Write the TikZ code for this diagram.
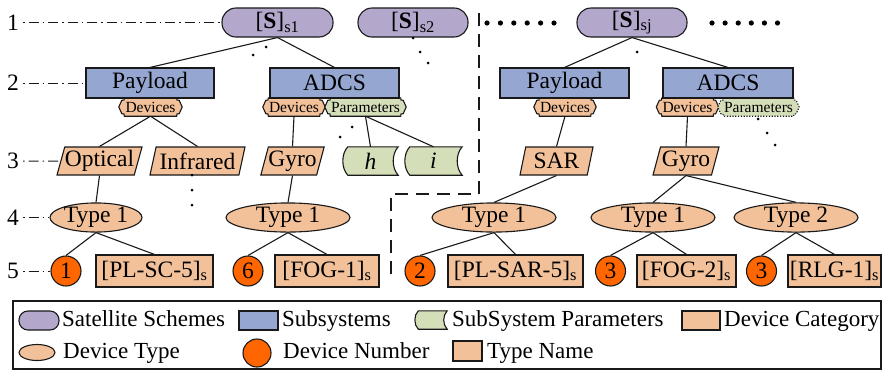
\documentclass[tikz,border=0pt]{standalone}
\usepackage{fontspec}
\setmainfont{Liberation Serif}
\usetikzlibrary{shapes.geometric,calc,backgrounds}
\definecolor{schemeC}{RGB}{180,167,204}
\definecolor{subC}{RGB}{149,166,209}
\definecolor{paramC}{RGB}{212,222,184}
\definecolor{devC}{RGB}{242,193,153}
\definecolor{numC}{RGB}{255,102,0}
\definecolor{lineC}{RGB}{25,25,25}
\newcommand\tagpath[2]{%
 \path[#2] ($(#1.north west)+(2.5,0)$) -- ($(#1.north east)+(-2.5,0)$)
   .. controls ($(#1.north east)+(-2.5,2.5)$) .. ($(#1.north east)+(0,2.5)$)
   -- ($(#1.east)+(3,0)$) -- ($(#1.south east)+(0,-2.5)$)
   .. controls ($(#1.south east)+(-2.5,-2.5)$) .. ($(#1.south east)+(-2.5,0)$)
   -- ($(#1.south west)+(2.5,0)$)
   .. controls ($(#1.south west)+(2.5,-2.5)$) .. ($(#1.south west)+(0,-2.5)$)
   -- ($(#1.west)+(-3,0)$) -- ($(#1.north west)+(0,2.5)$)
   .. controls ($(#1.north west)+(2.5,2.5)$) .. ($(#1.north west)+(2.5,0)$) -- cycle;}
\newcommand\storedpath[4]{%
 \path[#2] ($(#1.north west)+(#3,0)$) -- (#1.north east)
  .. controls ($(#1.north east)+(-1.33*#3,#4)$) and ($(#1.south east)+(-1.33*#3,-#4)$) .. (#1.south east)
  -- ($(#1.south west)+(#3,0)$)
  .. controls ($(#1.south west)+(-0.33*#3,-#4)$) and ($(#1.north west)+(-0.33*#3,#4)$) .. ($(#1.north west)+(#3,0)$) -- cycle;}
\tikzset{
 base/.style={draw=lineC, line width=1.1pt, font=\fontsize{23.5}{27}\selectfont, inner sep=0pt},
 scheme/.style={base, fill=schemeC, rounded corners=14pt, minimum width=110pt, minimum height=29pt},
 subsys/.style={base, fill=subC, minimum width=129pt, minimum height=30pt},
 tagtext/.style={inner sep=0pt, minimum height=18pt, font=\fontsize{15.5}{17}\selectfont},
 tagfill/.style={fill=#1, draw=lineC, line width=1.1pt},
 devcat/.style={base, fill=devC, trapezium, trapezium left angle=70, trapezium right angle=110, trapezium stretches body, minimum height=28pt},
 paramtext/.style={inner sep=0pt, minimum height=28pt, font=\fontsize{23.5}{27}\selectfont\itshape},
 devtype/.style={base, fill=devC, ellipse, minimum width=124pt, minimum height=29pt},
 devnum/.style={base, fill=numC, circle, minimum size=30pt},
 typename/.style={base, fill=devC, minimum height=32pt},
 conn/.style={draw=lineC, line width=1.1pt},
 levelline/.style={draw=lineC, line width=1pt, dash pattern=on 1.5pt off 4pt on 10pt off 4pt},
 lvl/.style={inner xsep=4pt, inner ysep=0pt, font=\fontsize{23.5}{27}\selectfont},
 lgtext/.style={anchor=base west, inner sep=0pt, font=\fontsize{23}{27}\selectfont},
 bigdot/.style={fill=black},
}
\begin{document}
\begin{tikzpicture}[x=1pt,y=-1pt]
\useasboundingbox (0,0) rectangle (882,370);

% level labels
\node[lvl] (l1) at (13,22.5) {1};
\node[lvl] (l2) at (13,83) {2};
\node[lvl] (l3) at (13,161) {3};
\node[lvl] (l4) at (13,217.5) {4};
\node[lvl] (l5) at (13,271) {5};

% level 1
\node[scheme, minimum width=111pt] (s1) at (277.5,22.5) {[\textbf{S}]\textsubscript{s1}};
\node[scheme] (s2) at (413,22.5) {[\textbf{S}]\textsubscript{s2}};
\node[scheme] (sj) at (632,22.5) {[\textbf{S}]\textsubscript{sj}};

% level 2
\node[subsys, minimum width=128pt] (p1) at (150,83) {Payload};
\node[subsys] (a1) at (334.5,83) {ADCS};
\node[subsys] (p2) at (564.5,83) {Payload};
\node[subsys, minimum width=130pt] (a2) at (728,83) {ADCS};

% tags
\node[tagtext, minimum width=57pt] (d1) at (150.5,107) {Devices};
\node[tagtext, minimum width=56pt] (d2) at (294,107) {Devices};
\node[tagtext, minimum width=75pt] (q1) at (365.5,107) {Parameters};
\node[tagtext, minimum width=56pt] (d3) at (565,107) {Devices};
\node[tagtext, minimum width=56pt] (d4) at (687.5,107) {Devices};
\node[tagtext, minimum width=75pt] (q2) at (758.5,107) {Parameters};

% level 3
\node[devcat, minimum width=85pt] (o1) at (99.5,161) {Optical};
\node[devcat, minimum width=95pt] (f1) at (197.5,161) {Infrared};
\node[devcat, minimum width=61pt] (g1) at (292.5,161) {Gyro};
\node[paramtext, minimum width=55pt] (h1) at (370.5,161) {h};
\node[paramtext, minimum width=57pt] (i1) at (433.5,161) {i};
\node[devcat, minimum width=73pt] (sa) at (556.5,161) {SAR};
\node[devcat, minimum width=66pt] (g2) at (686,161) {Gyro};

% level 4
\node[devtype, minimum width=92pt] (t1) at (96,217.5) {Type 1};
\node[devtype] (t2) at (288,217.5) {Type 1};
\node[devtype] (t3) at (494,217.5) {Type 1};
\node[devtype] (t4) at (653,217.5) {Type 1};
\node[devtype] (t5) at (796,217.5) {Type 2};

% level 5
\node[devnum] (c1) at (66,271) {1};
\node[typename, minimum width=117pt] (n1) at (154.5,271) {[PL-SC-5]\textsubscript{s}};
\node[devnum] (c2) at (248,271) {6};
\node[typename, minimum width=104pt] (n2) at (327,271) {[FOG-1]\textsubscript{s}};
\node[devnum] (c3) at (420,271) {2};
\node[typename, minimum width=135pt] (n3) at (515.5,271) {[PL-SAR-5]\textsubscript{s}};
\node[devnum] (c4) at (610.5,271) {3};
\node[typename, minimum width=99pt] (n4) at (686.5,271) {[FOG-2]\textsubscript{s}};
\node[devnum] (c5) at (761.5,271) {3};
\node[typename, minimum width=93pt] (n5) at (834.5,271) {[RLG-1]\textsubscript{s}};

% tag and parameter shapes behind their texts
\begin{pgfonlayer}{background}
\tagpath{d1}{tagfill=devC}
\tagpath{d2}{tagfill=devC}
\tagpath{q1}{tagfill=paramC}
\tagpath{d3}{tagfill=devC}
\tagpath{d4}{tagfill=devC}
\tagpath{q2}{fill=paramC, draw=lineC, line width=1.1pt, dash pattern=on 1.2pt off 1.6pt}
\storedpath{h1}{tagfill=paramC}{5}{7}
\storedpath{i1}{tagfill=paramC}{5}{7}
\end{pgfonlayer}

% level lines
\draw[levelline] (l1) -- (s1);
\draw[levelline] (l2) -- (p1);
\draw[levelline] (l3) -- (o1);
\draw[levelline] (l4) -- (t1);
\draw[levelline] (l5) -- (c1);

% connectors
\draw[conn] (s1.south) -- (p1.north);
\draw[conn] (s1.south) -- (a1.north);
\draw[conn] (sj.south) -- (p2.north);
\draw[conn] (sj.south) -- (a2.north);
\draw[conn] (d1.south) -- (o1.north);
\draw[conn] (d1.south) -- (f1.north);
\draw[conn] (d2.south) -- (g1.north);
\draw[conn] (q1.south) -- (h1.north);
\draw[conn] (q1.south) -- (i1.north);
\draw[conn] (o1.south) -- (t1.north);
\draw[conn] (g1.south) -- (t2.north);
\draw[conn] (t1.south) -- (c1.north);
\draw[conn] (t1.south) -- (n1.north);
\draw[conn] (t2.south) -- (c2.north);
\draw[conn] (t2.south) -- (n2.north);
\draw[conn] (d3.south) -- (sa.north);
\draw[conn] (sa.south) -- (t3.north);
\draw[conn] (t3.south) -- (c3.north);
\draw[conn] (t3.south) -- (n3.north);
\draw[conn] (d4.south) -- (g2.north);
\draw[conn] (g2.south) -- (t4.north);
\draw[conn] (g2.south) -- (t5.north);
\draw[conn] (t4.south) -- (c4.north);
\draw[conn] (t4.south) -- (n4.north);
\draw[conn] (t5.south) -- (c5.north);
\draw[conn] (t5.south) -- (n5.north);

% ellipsis dots
\foreach \p in {(266,47),(253,55),(413,38),(420,52),(428,63),(637,52),(352,127),(340,137),(192,175),(192,190),(192,205),(758,119),(767,133),(775,145)}
  \fill[black] \p circle[radius=1.5pt];
\foreach \k in {0,...,5} {
  \fill[bigdot] (487+\k*13.4,23) circle[radius=2.6pt];
  \fill[bigdot] (712+\k*13.1,23) circle[radius=2.6pt];
}

% dashed separator
\draw[lineC, line width=1.2pt, dash pattern=on 13pt off 8pt] (479,13) -- (479,194) -- (391,194) -- (391,276);

% legend
\node[draw=lineC, line width=1.3pt, minimum width=868pt, minimum height=68pt, inner sep=0pt] (lg) at (447,335) {};
\node[scheme, minimum width=40pt, minimum height=19pt, rounded corners=9pt] (ls) at (39,320.5) {};
\node[lgtext] (lst) at (62,326) {Satellite Schemes};
\node[subsys, minimum width=39pt, minimum height=19pt] (lb) at (258.5,320.5) {};
\node[lgtext] (lbt) at (282,326) {Subsystems};
\node[inner sep=0pt, minimum width=32pt, minimum height=18pt] (lp) at (431,320) {};
\begin{pgfonlayer}{background}
\storedpath{lp}{tagfill=paramC}{3.5}{4.5}
\end{pgfonlayer}
\node[lgtext] (lpt) at (452,326) {SubSystem Parameters};
\node[devcat, minimum width=38pt, minimum height=19pt] (lc) at (701,320.5) {};
\node[lgtext] (lct) at (724,326) {Device Category};
\node[devtype, minimum width=36pt, minimum height=16pt] (le) at (37,352.5) {};
\node[lgtext] (let) at (63,358) {Device Type};
\node[devnum, minimum size=28pt] (ln) at (257,353) {};
\node[lgtext] (lnt) at (283,358) {Device Number};
\node[typename, minimum width=29pt, minimum height=20pt] (lt) at (467.5,351) {};
\node[lgtext] (ltt) at (487,358) {Type Name};
\end{tikzpicture}
\end{document}
